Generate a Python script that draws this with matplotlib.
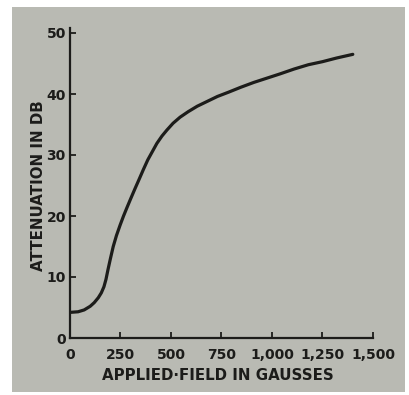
import matplotlib
matplotlib.use("Agg")
import matplotlib.pyplot as plt
from matplotlib.patches import Rectangle

# attenuation curve (field in gausses, attenuation in dB)
field = [0, 40, 70, 100, 120, 140, 155, 168, 178, 188, 200, 214, 230, 248, 265,
         281, 300, 322, 342, 363, 385, 410, 430, 455, 480, 510, 545, 585, 630,
         680, 730, 785, 845, 910, 975, 1040, 1110, 1180, 1250, 1320, 1400]
atten = [4.2, 4.3, 4.6, 5.2, 5.8, 6.6, 7.4, 8.4, 9.6, 11.2, 13.0, 15.0, 16.8,
         18.5, 20.0, 21.3, 22.8, 24.5, 26.0, 27.6, 29.2, 30.7, 31.9, 33.1, 34.1,
         35.2, 36.2, 37.1, 38.0, 38.8, 39.6, 40.3, 41.1, 41.9, 42.6, 43.3, 44.1,
         44.8, 45.3, 45.9, 46.5]

x_ticks = [0, 250, 500, 750, 1000, 1250, 1500]
x_tick_labels = ["0", "250", "500", "750", "1,000", "1,250", "1,500"]
y_ticks = [0, 10, 20, 30, 40, 50]

ink = "#1c1c1a"
paper = "#b9bab3"

fig = plt.figure(figsize=(4.1, 3.95), dpi=100, facecolor="white")
# grey print area behind the chart
fig.patches.append(Rectangle((12 / 410, 3 / 395), 393 / 410, 385 / 395,
                             transform=fig.transFigure, facecolor=paper,
                             edgecolor="none", zorder=-1))

ax = fig.add_axes([70 / 410, 57 / 395, 303 / 410, 305 / 395])
ax.set_facecolor("none")
ax.plot(field, atten, color=ink, lw=2.3, solid_capstyle="round",
        solid_joinstyle="round")

ax.set_xlim(0, 1500)
ax.set_ylim(0, 50)
ax.spines["top"].set_visible(False)
ax.spines["right"].set_visible(False)
for side in ("left", "bottom"):
    ax.spines[side].set_color(ink)
    ax.spines[side].set_linewidth(1.6)
ax.spines["left"].set_bounds(0, 50.8)

ax.set_xticks(x_ticks)
ax.set_xticklabels(x_tick_labels)
ax.set_yticks(y_ticks)
ax.tick_params(direction="in", length=4, width=1.3, color=ink,
               labelcolor=ink, labelsize=10)
ax.tick_params(axis="x", pad=7)
ax.tick_params(axis="y", pad=3)
for lab in ax.get_xticklabels() + ax.get_yticklabels():
    lab.set_fontweight("bold")

ax.set_xlabel("APPLIED\u00b7FIELD IN GAUSSES", fontsize=10.8, fontweight="bold",
              color=ink)
ax.set_ylabel("ATTENUATION IN DB", fontsize=10.8, fontweight="bold",
              color=ink)
ax.xaxis.set_label_coords(0.488, -0.098)
ax.yaxis.set_label_coords(-0.079, 0.50)

fig.savefig("out.png", dpi=100, facecolor="white")
